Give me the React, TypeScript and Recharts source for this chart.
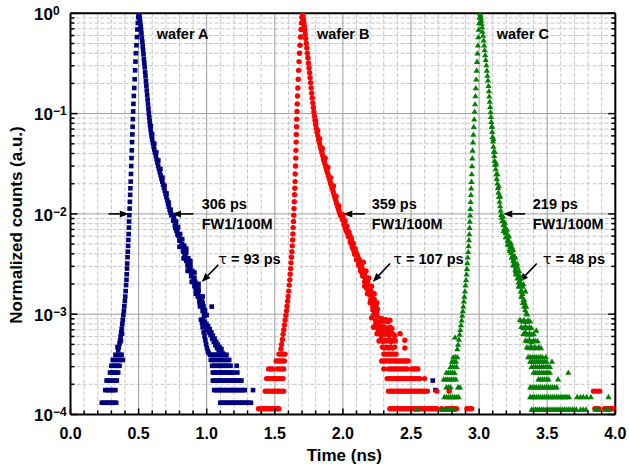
import {
  CartesianGrid,
  ReferenceDot,
  ReferenceLine,
  Scatter,
  ScatterChart,
  XAxis,
  YAxis,
} from "recharts";

type Pair = [number, number];
type Row = [number, number[]];

const FONT = '"Liberation Sans", Arial, Helvetica, sans-serif';

// time axis: a tick every 0.1 ns, labels every 0.5 ns
const xTicks = [
  0, 0.1, 0.2, 0.3, 0.4, 0.5, 0.6, 0.7, 0.8, 0.9, 1, 1.1, 1.2, 1.3, 1.4, 1.5,
  1.6, 1.7, 1.8, 1.9, 2, 2.1, 2.2, 2.3, 2.4, 2.5, 2.6, 2.7, 2.8, 2.9, 3, 3.1,
  3.2, 3.3, 3.4, 3.5, 3.6, 3.7, 3.8, 3.9, 4,
];
const xMajorGrid = [0.5, 1, 1.5, 2, 2.5, 3, 3.5];
const yDecades = [1e-4, 1e-3, 1e-2, 1e-1, 1];
const yMinor = [
  2e-4, 3e-4, 4e-4, 5e-4, 6e-4, 7e-4, 8e-4, 9e-4, 2e-3, 3e-3, 4e-3, 5e-3, 6e-3,
  7e-3, 8e-3, 9e-3, 0.02, 0.03, 0.04, 0.05, 0.06, 0.07, 0.08, 0.09, 0.2, 0.3,
  0.4, 0.5, 0.6, 0.7, 0.8, 0.9,
];

// ---- wafer A (time ns, normalized counts) ----
const waferARise: Pair[] = [
  [0.345, 4.7e-4], [0.35, 4.4e-4], [0.355, 4.7e-4], [0.36, 5.1e-4], [0.364, 5.5e-4],
  [0.37, 5.4e-4], [0.368, 6.0e-4], [0.372, 6.6e-4], [0.378, 6.4e-4], [0.376, 7.2e-4],
  [0.38, 8.0e-4], [0.384, 8.8e-4], [0.388, 9.8e-4], [0.392, 1.08e-3], [0.395, 1.2e-3],
  [0.399, 1.35e-3], [0.402, 1.5e-3], [0.405, 1.7e-3], [0.408, 1.95e-3], [0.411, 2.2e-3],
  [0.413, 2.5e-3], [0.415, 2.85e-3], [0.417, 3.2e-3], [0.419, 3.7e-3], [0.421, 4.2e-3],
  [0.423, 4.8e-3], [0.425, 5.5e-3], [0.427, 6.3e-3], [0.429, 7.3e-3], [0.43, 8.4e-3],
  [0.432, 9.7e-3], [0.434, 0.0113], [0.436, 0.0132], [0.438, 0.0155], [0.44, 0.018],
  [0.442, 0.021], [0.444, 0.025], [0.446, 0.03], [0.448, 0.036], [0.45, 0.043],
  [0.452, 0.052], [0.454, 0.062], [0.456, 0.074], [0.458, 0.088], [0.46, 0.105],
  [0.462, 0.125], [0.465, 0.15], [0.468, 0.18], [0.471, 0.22], [0.474, 0.27],
  [0.477, 0.33], [0.48, 0.4], [0.484, 0.48], [0.488, 0.58], [0.491, 0.69],
  [0.494, 0.8], [0.497, 0.91], [0.5, 1.0],
];
const waferADecay: Pair[] = [
  [0.503, 0.99], [0.506, 0.94], [0.509, 0.88], [0.512, 0.81], [0.515, 0.75],
  [0.518, 0.69], [0.521, 0.63], [0.524, 0.57], [0.527, 0.52], [0.53, 0.47],
  [0.533, 0.43], [0.536, 0.39], [0.539, 0.35], [0.542, 0.32], [0.545, 0.29],
  [0.548, 0.26], [0.551, 0.235], [0.554, 0.21], [0.557, 0.19], [0.56, 0.17],
  [0.563, 0.153], [0.566, 0.138], [0.569, 0.124], [0.572, 0.112], [0.575, 0.101],
  [0.578, 0.092], [0.581, 0.084], [0.584, 0.077], [0.588, 0.07], [0.592, 0.064],
  [0.596, 0.059], [0.6, 0.055], [0.605, 0.051], [0.61, 0.047], [0.615, 0.044],
  [0.62, 0.041], [0.626, 0.038], [0.632, 0.035], [0.638, 0.0325], [0.644, 0.03],
  [0.65, 0.028], [0.656, 0.026], [0.662, 0.0242], [0.668, 0.0225], [0.674, 0.021],
  [0.68, 0.0196], [0.686, 0.0183], [0.692, 0.017], [0.698, 0.0158], [0.704, 0.0147],
  [0.71, 0.0137], [0.716, 0.0127], [0.722, 0.0118], [0.728, 0.011], [0.734, 0.0103],
  [0.74, 0.0097], [0.748, 0.0098], [0.754, 0.0086], [0.76, 0.0087], [0.766, 0.0077],
  [0.772, 0.0078], [0.778, 0.0068], [0.784, 0.007], [0.79, 0.0061], [0.796, 0.0062],
  [0.802, 0.0054], [0.808, 0.0056], [0.814, 0.0048], [0.82, 0.005], [0.826, 0.0043],
  [0.832, 0.0045], [0.838, 0.0038], [0.844, 0.004], [0.85, 0.0034], [0.856, 0.0036],
  [0.862, 0.003], [0.868, 0.0032], [0.874, 0.0027], [0.88, 0.0029], [0.886, 0.0024],
  [0.892, 0.0026], [0.898, 0.0021], [0.904, 0.0023], [0.91, 0.0019], [0.916, 0.0021],
  [0.922, 0.0017], [0.928, 0.0019], [0.934, 0.0015], [0.94, 0.0017], [0.946, 0.00135],
  [0.952, 0.0015], [0.958, 0.0012], [0.964, 0.00135], [0.97, 0.00108], [0.976, 0.0012],
  [0.982, 0.00096], [0.988, 0.00108],
  [0.8, 0.0047], [0.83, 0.0036], [0.86, 0.0027], [0.89, 0.0021], [0.92, 0.0016],
  [0.95, 0.0012], [0.85, 0.0045], [0.88, 0.0034], [0.91, 0.0026], [0.94, 0.002],
  [0.97, 0.0015], [1.037, 0.00119],
  [0.59, 0.075], [0.6, 0.062], [0.615, 0.05], [0.63, 0.041], [0.645, 0.034],
  [0.66, 0.028], [0.675, 0.023], [0.69, 0.019], [0.705, 0.016], [0.72, 0.013],
  [0.735, 0.011],
  [0.76, 0.0095], [0.775, 0.0084], [0.79, 0.0074], [0.805, 0.0063], [0.82, 0.0056],
  [0.835, 0.0048], [0.85, 0.0041], [0.865, 0.0036], [0.88, 0.0031], [0.895, 0.0027],
  [0.91, 0.0023], [0.925, 0.002], [0.94, 0.0018], [0.955, 0.0015], [0.97, 0.0013],
  [0.985, 0.0011], [1.0, 0.00098],
  [0.77, 0.0072], [0.785, 0.0063], [0.8, 0.0055], [0.815, 0.0048], [0.83, 0.0042],
  [0.845, 0.0036], [0.86, 0.0031], [0.875, 0.0027], [0.89, 0.0024], [0.905, 0.0021],
  [0.92, 0.0018], [0.935, 0.0016], [0.95, 0.0013], [0.965, 0.0012], [0.98, 0.00105],
  [0.958, 0.00088], [0.966, 0.00082], [0.974, 0.0009], [0.98, 0.00079], [0.986, 0.00084],
  [0.992, 0.00074], [0.998, 0.0008], [1.004, 0.0007], [1.01, 0.00076], [1.016, 0.00066],
  [1.022, 0.00071], [1.028, 0.00062], [1.034, 0.00066], [1.04, 0.00057], [1.046, 0.00061],
  [1.052, 0.00053], [1.058, 0.00057], [1.064, 0.00049], [1.07, 0.00053], [1.076, 0.00046],
  [1.082, 0.0005], [1.088, 0.00044], [1.094, 0.00047], [1.1, 0.00042], [1.108, 0.00045],
  [1.116, 0.00041], [0.97, 0.00074], [0.978, 0.00066], [0.984, 0.0006], [0.99, 0.00055],
  [0.996, 0.0005], [1.002, 0.00046], [1.008, 0.00043], [1.014, 0.00041],
];
const waferARows: Row[] = [
  [3.94e-4, [0.33, 0.345, 0.36, 0.375, 1.025, 1.04, 1.055, 1.07, 1.085, 1.1, 1.115, 1.13, 1.145]],
  [3.5e-4, [0.31, 0.325, 0.34, 0.355, 0.37, 0.385, 1.03, 1.045, 1.06, 1.075, 1.09, 1.105, 1.12, 1.135, 1.15, 1.165]],
  [3.06e-4, [0.3, 0.315, 0.33, 0.345, 0.36, 1.04, 1.055, 1.07, 1.085, 1.1, 1.115, 1.13, 1.145, 1.16, 1.175, 1.22]],
  [2.62e-4, [0.29, 0.305, 0.32, 0.335, 0.35, 1.045, 1.06, 1.075, 1.09, 1.105, 1.12, 1.135, 1.15, 1.165, 1.18, 1.195, 1.225]],
  [2.18e-4, [0.265, 0.28, 0.295, 0.31, 0.325, 0.34, 1.045, 1.06, 1.075, 1.09, 1.105, 1.12, 1.135, 1.15, 1.165, 1.18, 1.195, 1.21, 1.225, 1.24, 1.255, 2.66]],
  [1.75e-4, [0.255, 0.27, 0.285, 0.3, 0.315, 0.33, 1.055, 1.07, 1.085, 1.1, 1.115, 1.13, 1.145, 1.16, 1.175, 1.19, 1.205, 1.22, 1.235, 1.25, 1.265, 1.28, 1.34, 2.68]],
  [1.31e-4, [0.23, 0.245, 0.26, 0.275, 0.29, 0.305, 0.32, 0.335, 1.1, 1.115, 1.13, 1.145, 1.16, 1.175, 1.19, 1.205, 1.22, 1.235, 1.25, 1.265, 1.28, 1.295, 1.31, 1.325]],
];

// ---- wafer B ----
const waferBRise: Pair[] = [
  [1.545, 4.5e-4], [1.55, 5.0e-4], [1.556, 5.6e-4], [1.561, 6.3e-4], [1.566, 7.0e-4],
  [1.571, 7.8e-4], [1.576, 8.7e-4], [1.581, 9.7e-4], [1.586, 1.08e-3], [1.59, 1.2e-3],
  [1.594, 1.35e-3], [1.598, 1.5e-3], [1.602, 1.7e-3], [1.606, 1.95e-3], [1.61, 2.2e-3],
  [1.613, 2.5e-3], [1.616, 2.85e-3], [1.619, 3.25e-3], [1.622, 3.7e-3], [1.625, 4.2e-3],
  [1.628, 4.8e-3], [1.631, 5.5e-3], [1.633, 6.3e-3], [1.635, 7.3e-3], [1.637, 8.4e-3],
  [1.639, 9.7e-3], [1.641, 0.0113], [1.643, 0.0132], [1.645, 0.0155], [1.647, 0.018],
  [1.649, 0.021], [1.65, 0.025], [1.652, 0.03], [1.654, 0.036], [1.655, 0.043],
  [1.657, 0.052], [1.658, 0.062], [1.66, 0.074], [1.661, 0.088], [1.663, 0.105],
  [1.665, 0.125], [1.667, 0.15], [1.669, 0.18], [1.672, 0.22], [1.675, 0.27],
  [1.678, 0.33], [1.681, 0.4], [1.685, 0.48], [1.689, 0.58], [1.693, 0.69],
  [1.696, 0.8], [1.699, 0.91], [1.702, 1.0],
];
const waferBDecay: Pair[] = [
  [1.705, 0.99], [1.708, 0.93], [1.711, 0.86], [1.714, 0.8], [1.717, 0.74],
  [1.72, 0.68], [1.723, 0.62], [1.727, 0.56], [1.731, 0.5], [1.735, 0.45],
  [1.739, 0.4], [1.743, 0.36], [1.747, 0.32], [1.751, 0.285], [1.755, 0.255],
  [1.759, 0.228], [1.763, 0.203], [1.767, 0.18], [1.771, 0.16], [1.775, 0.143],
  [1.779, 0.128], [1.783, 0.115], [1.787, 0.104], [1.791, 0.094], [1.795, 0.086],
  [1.8, 0.078], [1.805, 0.071], [1.81, 0.065], [1.816, 0.06], [1.822, 0.055],
  [1.828, 0.051], [1.834, 0.047], [1.84, 0.044], [1.846, 0.041], [1.852, 0.038],
  [1.858, 0.035], [1.864, 0.033], [1.87, 0.031], [1.876, 0.029], [1.882, 0.027],
  [1.888, 0.0255], [1.894, 0.024], [1.9, 0.0225], [1.906, 0.021], [1.912, 0.0198],
  [1.918, 0.0186], [1.924, 0.0175], [1.93, 0.0164], [1.936, 0.0154], [1.942, 0.0145],
  [1.948, 0.0136], [1.954, 0.0128], [1.96, 0.012], [1.966, 0.0113], [1.972, 0.0107],
  [1.978, 0.0101], [1.984, 0.0096], [1.99, 0.0098], [1.996, 0.0088], [2.002, 0.009],
  [2.008, 0.008], [2.014, 0.0082], [2.02, 0.0072], [2.026, 0.0074], [2.032, 0.0065],
  [2.038, 0.0067], [2.044, 0.0059], [2.05, 0.0061], [2.056, 0.0053], [2.062, 0.0055],
  [2.068, 0.0048], [2.074, 0.005], [2.08, 0.0043], [2.086, 0.0045], [2.092, 0.0039],
  [2.098, 0.0041], [2.104, 0.0035], [2.11, 0.0037], [2.116, 0.0032], [2.122, 0.0034],
  [2.128, 0.0029], [2.134, 0.0031], [2.14, 0.0026], [2.146, 0.0028], [2.152, 0.0024],
  [2.158, 0.0025], [2.164, 0.0021], [2.17, 0.0023], [2.176, 0.0019], [2.182, 0.0021],
  [2.188, 0.0017], [2.194, 0.0019], [2.2, 0.00155], [2.206, 0.0017], [2.212, 0.0014],
  [2.218, 0.00155], [2.224, 0.00127], [2.23, 0.0014], [2.236, 0.00115], [2.242, 0.00125],
  [2.248, 0.00104], [2.254, 0.00112],
  [1.8, 0.085], [1.815, 0.068], [1.83, 0.056], [1.85, 0.045], [1.87, 0.036],
  [1.89, 0.029], [1.91, 0.023], [1.93, 0.019], [1.95, 0.015], [1.97, 0.012],
  [2.0, 0.0098], [2.015, 0.0086], [2.03, 0.0075], [2.045, 0.0066], [2.06, 0.0058],
  [2.075, 0.0051], [2.09, 0.0045], [2.105, 0.0039], [2.12, 0.0035], [2.135, 0.003],
  [2.15, 0.0027], [2.165, 0.0023], [2.18, 0.0021], [2.195, 0.0018], [2.21, 0.0016],
  [2.225, 0.0014], [2.24, 0.0012],
  [2.01, 0.0077], [2.025, 0.0068], [2.04, 0.006], [2.055, 0.0052], [2.07, 0.0046],
  [2.085, 0.004], [2.1, 0.0035], [2.115, 0.0031], [2.13, 0.0027], [2.145, 0.0024],
  [2.16, 0.0021], [2.175, 0.0018], [2.19, 0.0016], [2.205, 0.0014], [2.22, 0.0012],
  [2.235, 0.00105],
  [2.15, 0.0033], [2.17, 0.0027], [2.19, 0.0023], [2.21, 0.0019], [2.23, 0.0016],
  [2.25, 0.0013], [2.16, 0.0019], [2.18, 0.0016], [2.2, 0.0013], [2.22, 0.0011],
  [2.21, 0.00092], [2.226, 0.00098], [2.24, 0.00086], [2.255, 0.00094], [2.27, 0.00083],
  [2.285, 0.0009], [2.3, 0.00085], [2.315, 0.00088], [2.33, 0.00084], [2.345, 0.00087],
  [2.225, 0.00074], [2.24, 0.00078], [2.255, 0.00072], [2.27, 0.00076], [2.285, 0.0007],
  [2.3, 0.00075], [2.315, 0.00073], [2.33, 0.0007], [2.345, 0.00074], [2.36, 0.00072],
  [2.25, 0.00064], [2.265, 0.00066], [2.28, 0.00062], [2.295, 0.00065], [2.31, 0.00063],
  [2.325, 0.00066], [2.34, 0.00062], [2.355, 0.00065], [2.37, 0.00063], [2.38, 0.00061],
  [2.42, 0.00064], [2.265, 0.00054], [2.28, 0.00056], [2.295, 0.00053], [2.31, 0.00055],
  [2.325, 0.00054], [2.34, 0.00056], [2.355, 0.00053], [2.37, 0.00055], [2.385, 0.00054],
  [2.455, 0.00055], [2.29, 0.00047], [2.305, 0.00046], [2.32, 0.00047], [2.335, 0.00046],
  [2.35, 0.00047], [2.365, 0.00046], [2.38, 0.00047], [2.455, 0.00046],
];
const waferBRows: Row[] = [
  [4.0e-4, [1.53, 1.545, 1.56, 1.575, 2.3, 2.315, 2.33, 2.345, 2.36, 2.375, 2.39]],
  [3.42e-4, [1.51, 1.525, 1.54, 1.555, 1.57, 2.285, 2.3, 2.315, 2.33, 2.345, 2.36, 2.375, 2.39, 2.405, 2.42, 2.435, 2.45, 2.465, 2.48]],
  [2.85e-4, [1.455, 1.47, 1.485, 1.52, 1.535, 1.55, 1.565, 2.3, 2.335, 2.35, 2.365, 2.38, 2.395, 2.41, 2.425, 2.44, 2.455, 2.47, 2.505, 2.52, 2.535, 2.55]],
  [2.28e-4, [1.44, 1.455, 1.47, 1.485, 1.5, 1.515, 1.53, 1.545, 1.56, 2.325, 2.34, 2.355, 2.37, 2.385, 2.4, 2.415, 2.43, 2.445, 2.46, 2.475, 2.49, 2.505, 2.52, 2.535, 2.55, 2.565, 2.6]],
  [1.71e-4, [1.43, 1.445, 1.46, 1.475, 1.49, 1.505, 1.52, 1.535, 1.55, 1.565, 2.335, 2.35, 2.365, 2.38, 2.395, 2.41, 2.425, 2.44, 2.455, 2.47, 2.485, 2.5, 2.515, 2.53, 2.545, 2.56, 2.575, 2.59, 2.605, 2.62, 2.69, 2.78, 3.84, 3.86, 3.885]],
  [1.14e-4, [1.38, 1.395, 1.41, 1.425, 1.44, 1.455, 1.47, 1.485, 1.5, 1.515, 1.53, 2.345, 2.36, 2.375, 2.39, 2.405, 2.42, 2.435, 2.45, 2.465, 2.48, 2.495, 2.51, 2.525, 2.54, 2.555, 2.57, 2.585, 2.6, 2.615, 2.63, 2.645, 2.66, 2.675, 2.69, 2.725, 2.76, 2.775, 2.79, 2.805, 2.82, 2.835, 2.91, 2.93, 2.945, 3.85, 3.865, 3.88, 3.92, 3.935, 3.95, 3.965, 3.98, 3.995]],
];

// ---- wafer C ----
const waferCRise: Pair[] = [
  [2.823, 5.9e-4], [2.84, 4.5e-4], [2.846, 5.0e-4], [2.852, 5.6e-4], [2.857, 6.3e-4],
  [2.862, 7.0e-4], [2.867, 7.8e-4], [2.872, 8.7e-4], [2.876, 9.7e-4], [2.88, 1.08e-3],
  [2.884, 1.2e-3], [2.888, 1.35e-3], [2.892, 1.5e-3], [2.896, 1.7e-3], [2.9, 1.95e-3],
  [2.904, 2.2e-3], [2.908, 2.5e-3], [2.911, 2.85e-3], [2.914, 3.25e-3], [2.917, 3.7e-3],
  [2.92, 4.2e-3], [2.923, 4.8e-3], [2.926, 5.5e-3], [2.928, 6.3e-3], [2.93, 7.3e-3],
  [2.932, 8.4e-3], [2.934, 9.7e-3], [2.936, 0.0113], [2.938, 0.0132], [2.94, 0.0155],
  [2.942, 0.018], [2.944, 0.021], [2.946, 0.025], [2.948, 0.03], [2.95, 0.036],
  [2.952, 0.043], [2.955, 0.052], [2.958, 0.062], [2.961, 0.074], [2.964, 0.088],
  [2.967, 0.105], [2.97, 0.125], [2.973, 0.15], [2.976, 0.18], [2.979, 0.22],
  [2.982, 0.27], [2.985, 0.33], [2.988, 0.4], [2.991, 0.48], [2.994, 0.58],
  [2.997, 0.69], [3.0, 0.8], [3.003, 0.91], [3.006, 1.0],
];
const waferCDecay: Pair[] = [
  [3.01, 0.96], [3.013, 0.91], [3.016, 0.85], [3.019, 0.79], [3.022, 0.73],
  [3.025, 0.66], [3.029, 0.6], [3.033, 0.54], [3.037, 0.48], [3.041, 0.43],
  [3.045, 0.385], [3.049, 0.345], [3.053, 0.305], [3.057, 0.27], [3.061, 0.24],
  [3.065, 0.215], [3.069, 0.19], [3.072, 0.168], [3.075, 0.149], [3.078, 0.132],
  [3.081, 0.117], [3.084, 0.104], [3.087, 0.093], [3.09, 0.083], [3.093, 0.074],
  [3.096, 0.066], [3.099, 0.059], [3.102, 0.053], [3.105, 0.047], [3.108, 0.042],
  [3.111, 0.038], [3.114, 0.034], [3.118, 0.031], [3.122, 0.028], [3.126, 0.025],
  [3.13, 0.0225], [3.134, 0.0202], [3.138, 0.0182], [3.142, 0.0164], [3.146, 0.0148],
  [3.15, 0.0133], [3.154, 0.012], [3.158, 0.0108], [3.162, 0.0098], [3.166, 0.0092],
  [3.17, 0.0085], [3.174, 0.0086], [3.178, 0.0078], [3.182, 0.0079], [3.186, 0.0071],
  [3.19, 0.0073], [3.194, 0.0065], [3.198, 0.0067], [3.202, 0.0059], [3.206, 0.0061],
  [3.21, 0.0054], [3.214, 0.0056], [3.218, 0.0049], [3.222, 0.0051], [3.226, 0.0045],
  [3.23, 0.0047], [3.234, 0.0041], [3.238, 0.0043], [3.242, 0.0037], [3.246, 0.0039],
  [3.25, 0.0034], [3.254, 0.0036], [3.258, 0.0031], [3.262, 0.0033], [3.266, 0.0028],
  [3.27, 0.003], [3.274, 0.0026], [3.278, 0.0027], [3.282, 0.0023], [3.286, 0.0025],
  [3.29, 0.0021], [3.294, 0.0023], [3.298, 0.0019], [3.302, 0.0021], [3.306, 0.0017],
  [3.31, 0.0019], [3.314, 0.0015], [3.318, 0.0016], [3.322, 0.0013], [3.326, 0.0014],
  [3.33, 0.0012], [3.334, 0.0013], [3.338, 0.0011], [3.342, 0.0012], [3.346, 0.00102],
  [3.095, 0.075], [3.105, 0.056], [3.115, 0.042], [3.125, 0.032], [3.135, 0.025],
  [3.145, 0.019], [3.155, 0.015],
  [3.175, 0.0095], [3.19, 0.0082], [3.205, 0.007], [3.22, 0.006], [3.235, 0.0051],
  [3.25, 0.0044], [3.265, 0.0037], [3.28, 0.0032], [3.295, 0.0027], [3.31, 0.0023],
  [3.325, 0.002], [3.34, 0.0017],
  [3.18, 0.0068], [3.195, 0.0059], [3.21, 0.005], [3.225, 0.0043], [3.24, 0.0037],
  [3.255, 0.0031], [3.27, 0.0027], [3.285, 0.0023], [3.3, 0.002], [3.315, 0.0017],
  [3.33, 0.0014], [3.345, 0.0012], [3.355, 0.001],
  [3.24, 0.0047], [3.26, 0.0038], [3.28, 0.003], [3.3, 0.0024], [3.32, 0.0019],
  [3.25, 0.0031], [3.27, 0.0025], [3.29, 0.0019], [3.31, 0.0015],
  [3.3, 0.00088], [3.315, 0.00085], [3.33, 0.00088], [3.345, 0.00084], [3.36, 0.00087],
  [3.375, 0.00085], [3.31, 0.00075], [3.325, 0.00073], [3.34, 0.00076], [3.355, 0.00073],
  [3.37, 0.00075], [3.385, 0.00073], [3.42, 0.00069], [3.325, 0.00064], [3.34, 0.00066],
  [3.355, 0.00063], [3.37, 0.00065], [3.385, 0.00063], [3.4, 0.00064], [3.34, 0.00055],
  [3.355, 0.00054], [3.37, 0.00056], [3.385, 0.00053], [3.4, 0.00055], [3.415, 0.00054],
  [3.43, 0.00054], [3.35, 0.00047], [3.365, 0.00046], [3.38, 0.00048], [3.395, 0.00046],
  [3.41, 0.00047], [3.425, 0.00046], [3.44, 0.00047], [3.455, 0.00046],
];
const waferCRows: Row[] = [
  [3.75e-4, [2.81, 2.825, 2.84, 3.36, 3.375, 3.39, 3.405, 3.42, 3.435, 3.45, 3.465, 3.49]],
  [3.375e-4, [2.8, 2.815, 2.83, 3.375, 3.39, 3.405, 3.42, 3.435, 3.45, 3.465, 3.48, 3.495, 3.535]],
  [3.0e-4, [2.79, 2.805, 2.82, 2.835, 3.385, 3.4, 3.415, 3.43, 3.445, 3.46, 3.475, 3.49, 3.505, 3.52]],
  [2.625e-4, [2.76, 2.775, 2.79, 2.805, 2.82, 3.4, 3.415, 3.43, 3.445, 3.46, 3.475, 3.49, 3.505, 3.52, 3.655]],
  [2.25e-4, [2.74, 2.755, 2.77, 2.785, 2.8, 2.815, 2.83, 3.435, 3.45, 3.465, 3.48, 3.495, 3.51, 3.58]],
  [1.875e-4, [2.76, 2.775, 2.79, 2.845, 2.86, 3.375, 3.39, 3.405, 3.42, 3.435, 3.45, 3.465, 3.48, 3.495, 3.51, 3.525, 3.54, 3.555, 3.57]],
  [1.5e-4, [2.745, 2.76, 2.775, 2.79, 2.805, 2.82, 2.835, 2.85, 3.375, 3.39, 3.405, 3.42, 3.435, 3.45, 3.465, 3.48, 3.495, 3.51, 3.525, 3.54, 3.555, 3.57, 3.585, 3.6, 3.615, 3.63, 3.645, 3.66, 3.72, 3.745, 3.765, 3.79, 3.82, 3.95]],
  [1.125e-4, [2.545, 2.725, 2.74, 2.755, 2.77, 2.785, 2.8, 2.815, 3.385, 3.4, 3.415, 3.43, 3.445, 3.46, 3.475, 3.49, 3.505, 3.52, 3.535, 3.55, 3.565, 3.58, 3.595, 3.61, 3.625, 3.64, 3.655, 3.67, 3.685, 3.7, 3.715, 3.745, 3.765, 3.785, 3.855, 3.875, 3.93, 3.95]],
];

// annotation anchors in data units (left edge / baseline of the text)
const waferLabels = [
  { t: 0.633, v: 0.554, text: "wafer A" },
  { t: 1.81, v: 0.554, text: "wafer B" },
  { t: 3.129, v: 0.554, text: "wafer C" },
];
const widthLabels = [
  { t: 0.963, text: "306 ps" },
  { t: 2.211, text: "359 ps" },
  { t: 3.394, text: "219 ps" },
];
const tauLabels = [
  { t: 1.085, text: "93 ps" },
  { t: 2.37, text: "107 ps" },
  { t: 3.467, text: "48 ps" },
];
const widthArrows: [Pair, Pair][] = [
  [[0.28, 0.01], [0.428, 0.01]],
  [[0.902, 0.01], [0.745, 0.01]],
  [[2.162, 0.01], [2.003, 0.01]],
  [[3.337, 0.01], [3.178, 0.01]],
];
const tauArrows: [Pair, Pair][] = [
  [[1.085, 0.0031], [0.963, 0.0021]],
  [[2.346, 0.0032], [2.219, 0.0021]],
  [[3.423, 0.0032], [3.295, 0.0021]],
];

const pairs = (list: Pair[]) => list.map(([t, v]) => ({ t, v }));
const rows = (list: Row[]) => list.flatMap(([v, ts]) => ts.map((t) => ({ t, v })));

const seriesA = [...pairs(waferARise), ...pairs(waferADecay), ...rows(waferARows)];
const seriesB = [...pairs(waferBRise), ...pairs(waferBDecay), ...rows(waferBRows)];
const seriesC = [...pairs(waferCRise), ...pairs(waferCDecay), ...rows(waferCRows)];

function isHalf(v: number) {
  return Math.abs(v * 2 - Math.round(v * 2)) < 1e-6;
}
function isDecade(v: number) {
  const e = Math.log10(v);
  return Math.abs(e - Math.round(e)) < 1e-6;
}

const yTicks = [...yDecades, ...yMinor].sort((a, b) => a - b);
const xMinorGrid = xTicks.filter((v) => v > 0 && v < 4 && !isHalf(v));

const axisLine = { stroke: "#000", strokeWidth: 2 };

function BottomTick(props: any) {
  const { x, y, payload } = props;
  const major = isHalf(payload.value);
  return (
    <g>
      <line x1={x} x2={x} y1={y} y2={y - (major ? 6 : 4)} stroke="#000" strokeWidth={1.5} />
      {major && (
        <text x={x} y={y + 24} textAnchor="middle" fontFamily={FONT} fontSize={16} fontWeight="bold" fill="#000">
          {payload.value.toFixed(1)}
        </text>
      )}
    </g>
  );
}

function TopTick(props: any) {
  const { x, y, payload } = props;
  const major = isHalf(payload.value);
  return <line x1={x} x2={x} y1={y} y2={y + (major ? 6 : 4)} stroke="#000" strokeWidth={1.5} />;
}

function LeftTick(props: any) {
  const { x, y, payload } = props;
  const major = isDecade(payload.value);
  const exp = Math.round(Math.log10(payload.value));
  return (
    <g>
      <line x1={x} x2={x + (major ? 7 : 4)} y1={y} y2={y} stroke="#000" strokeWidth={1.5} />
      {major && (
        <text x={x - 36.5} y={y + 6.7} fontFamily={FONT} fontSize={17} fontWeight="bold" fill="#000">
          10
          <tspan dy={-5} fontSize={12}>
            {exp === 0 ? "0" : "\u2212" + Math.abs(exp)}
          </tspan>
        </text>
      )}
    </g>
  );
}

function RightTick(props: any) {
  const { x, y, payload } = props;
  const major = isDecade(payload.value);
  return <line x1={x} x2={x - (major ? 7 : 4)} y1={y} y2={y} stroke="#000" strokeWidth={1.5} />;
}

function Square(props: any) {
  const { cx, cy } = props;
  if (cx == null || cy == null) return <g />;
  return <rect x={cx - 2.3} y={cy - 2.3} width={4.6} height={4.6} fill="#000080" />;
}

function Circle(props: any) {
  const { cx, cy } = props;
  if (cx == null || cy == null) return <g />;
  return <circle cx={cx} cy={cy} r={2.7} fill="#ff0000" />;
}

function Triangle(props: any) {
  const { cx, cy } = props;
  if (cx == null || cy == null) return <g />;
  return (
    <polygon
      points={`${cx},${cy - 3} ${cx + 3.1},${cy + 2.3} ${cx - 3.1},${cy + 2.3}`}
      fill="#008000"
    />
  );
}

function Arrow(props: any) {
  const { x1, y1, x2, y2 } = props;
  const dx = x2 - x1;
  const dy = y2 - y1;
  const len = Math.hypot(dx, dy) || 1;
  const ux = dx / len;
  const uy = dy / len;
  const head = 9;
  const half = 3.5;
  const bx = x2 - ux * head;
  const by = y2 - uy * head;
  return (
    <g>
      <line x1={x1} y1={y1} x2={bx} y2={by} stroke="#000" strokeWidth={1.6} />
      <polygon
        points={`${x2},${y2} ${bx - uy * half},${by + ux * half} ${bx + uy * half},${by - ux * half}`}
        fill="#000"
      />
    </g>
  );
}

const textStyle = { fontFamily: FONT, fontSize: 14.5, fontWeight: "bold" as const, fill: "#000" };

// plot area: x 70.5..615.3, y 13.3..414.5
export default function App() {
  return (
    <div style={{ position: "absolute", left: 0, top: 0, width: 629, height: 472, background: "#fff" }}>
      <ScatterChart
        width={629}
        height={472}
        margin={{ top: 3.3, right: 3.7, bottom: 27.5, left: 30.5 }}
      >
        <CartesianGrid
          stroke="#c4c4c4"
          strokeDasharray="4 2"
          verticalValues={xMinorGrid}
          horizontalValues={yMinor}
        />
        <CartesianGrid stroke="#9c9c9c" verticalValues={xMajorGrid} horizontalValues={[1e-3, 1e-2, 1e-1]} />
        <XAxis
          dataKey="t"
          type="number"
          domain={[0, 4]}
          allowDataOverflow
          ticks={xTicks}
          interval={0}
          height={30}
          tickSize={0}
          tickMargin={0}
          tickLine={false}
          axisLine={axisLine}
          tick={(p: any) => <BottomTick {...p} />}
        />
        <XAxis
          xAxisId="top"
          orientation="top"
          type="number"
          domain={[0, 4]}
          allowDataOverflow
          ticks={xTicks}
          interval={0}
          height={10}
          tickSize={0}
          tickMargin={0}
          tickLine={false}
          axisLine={axisLine}
          tick={(p: any) => <TopTick {...p} />}
        />
        <YAxis
          dataKey="v"
          type="number"
          scale="log"
          domain={[1e-4, 1]}
          allowDataOverflow
          ticks={yTicks}
          interval={0}
          width={40}
          tickSize={0}
          tickMargin={0}
          tickLine={false}
          axisLine={axisLine}
          tick={(p: any) => <LeftTick {...p} />}
        />
        <YAxis
          yAxisId="right"
          orientation="right"
          type="number"
          scale="log"
          domain={[1e-4, 1]}
          allowDataOverflow
          ticks={yTicks}
          interval={0}
          width={10}
          tickSize={0}
          tickMargin={0}
          tickLine={false}
          axisLine={axisLine}
          tick={(p: any) => <RightTick {...p} />}
        />
        <Scatter name="wafer A" data={seriesA} shape={Square} isAnimationActive={false} />
        <Scatter name="wafer B" data={seriesB} shape={Circle} isAnimationActive={false} />
        <Scatter name="wafer C" data={seriesC} shape={Triangle} isAnimationActive={false} />

        {[...widthArrows, ...tauArrows].map(([from, to], i) => (
          <ReferenceLine
            key={`arrow-${i}`}
            segment={[
              { x: from[0], y: from[1] },
              { x: to[0], y: to[1] },
            ]}
            shape={(p: any) => <Arrow {...p} />}
          />
        ))}
        {waferLabels.map((l) => (
          <ReferenceDot
            key={l.text}
            x={l.t}
            y={l.v}
            r={0}
            shape={(p: any) => (
              <text x={p.cx} y={p.cy} {...textStyle}>
                {l.text}
              </text>
            )}
          />
        ))}
        {widthLabels.map((l) => (
          <ReferenceDot
            key={l.text}
            x={l.t}
            y={0.0113}
            r={0}
            shape={(p: any) => (
              <g>
                <text x={p.cx} y={p.cy} {...textStyle}>
                  {l.text}
                </text>
                <text x={p.cx} y={p.cy + 20} {...textStyle}>
                  FW1/100M
                </text>
              </g>
            )}
          />
        ))}
        {tauLabels.map((l) => (
          <ReferenceDot
            key={l.text}
            x={l.t}
            y={0.0032}
            r={0}
            shape={(p: any) => (
              <text x={p.cx} y={p.cy} {...textStyle}>
                <tspan fontWeight="normal" fontFamily="'DejaVu Sans', sans-serif">
                  τ
                </tspan>
                {" = " + l.text}
              </text>
            )}
          />
        ))}
      </ScatterChart>
      <svg
        width={629}
        height={472}
        style={{ position: "absolute", left: 0, top: 0, pointerEvents: "none" }}
      >
        <text x={344.3} y={460.5} textAnchor="middle" fontFamily={FONT} fontSize={17} fontWeight="bold">
          Time (ns)
        </text>
        <text
          transform="translate(21.5,225) rotate(-90)"
          textAnchor="middle"
          fontFamily={FONT}
          fontSize={17}
          fontWeight="bold"
        >
          Normalized counts (a.u.)
        </text>
      </svg>
    </div>
  );
}
